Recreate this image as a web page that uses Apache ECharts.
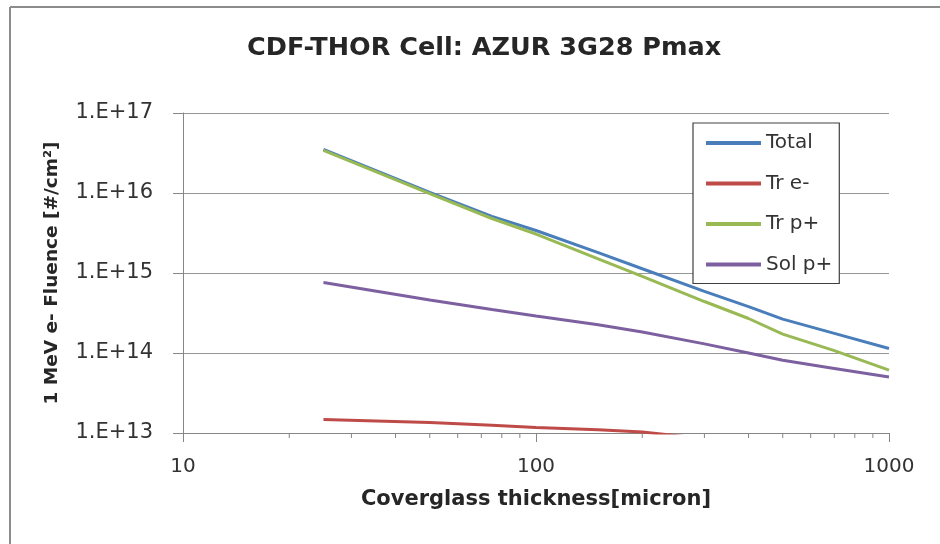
<!DOCTYPE html>
<html>
<head>
<meta charset="utf-8">
<script src="https://cdn.jsdelivr.net/npm/echarts@6/dist/echarts.min.js"></script>
<style>
  html, body { margin: 0; padding: 0; background: #ffffff; }
  #chart { width: 940px; height: 544px; }
</style>
</head>
<body>
<div id="chart"></div>
<script>
// ---- data ----
const thickness = [25, 50, 75, 100, 150, 200, 300, 400, 500, 700, 1000];
const total     = [3.5e16, 1.02e16, 5.1e15, 3.4e15, 1.8e15, 1.13e15, 5.9e14, 3.8e14, 2.65e14, 1.76e14, 1.14e14];
const trElec    = [1.47e13, 1.35e13, 1.25e13, 1.17e13, 1.1e13, 1.03e13, 8.5e12, 7.3e12, 6.5e12, 5.3e12, 4.2e12];
const trProt    = [3.4e16, 9.8e15, 4.8e15, 3.07e15, 1.5e15, 9.1e14, 4.4e14, 2.7e14, 1.72e14, 1.07e14, 6.1e13];
const solProt   = [7.6e14, 4.6e14, 3.5e14, 2.9e14, 2.25e14, 1.83e14, 1.3e14, 1.0e14, 8.1e13, 6.4e13, 5.0e13];
const seriesNames = ['Total', 'Tr e-', 'Tr p+', 'Sol p+'];
const yTickLabels = ['1.E+13', '1.E+14', '1.E+15', '1.E+16', '1.E+17'];
const xTickLabels = ['10', '100', '1000'];
const xMinorTicks = [20, 30, 40, 50, 60, 70, 80, 90, 200, 300, 400, 500, 600, 700, 800, 900];

const colors = ['#4A7EBB', '#BE4B48', '#98B954', '#7D60A0'];
const FONT = 'DejaVu Sans';
const Y_MIN = 1e13, Y_MAX = 1e17;

function pairs(vals) { return thickness.map((t, i) => [t, vals[i]]); }

const chart = echarts.init(document.getElementById('chart'), null, { renderer: 'canvas' });

const lineSeries = [total, trElec, trProt, solProt].map((vals, i) => ({
  name: seriesNames[i],
  type: 'line',
  data: pairs(vals),
  symbol: 'none',
  showSymbol: false,
  clip: true,
  lineStyle: { color: colors[i], width: 3 },
  itemStyle: { color: colors[i] },
  z: 3
}));

const option = {
  backgroundColor: '#ffffff',
  animation: false,
  title: {
    text: 'CDF-THOR Cell: AZUR 3G28 Pmax',
    left: 242,
    top: 30,
    textStyle: { fontFamily: FONT, fontSize: 25.5, fontWeight: 'bold', color: '#262626' }
  },
  legend: {
    data: seriesNames,
    orient: 'vertical',
    left: 693,
    top: 123,
    padding: [9, 7, 8, 13],
    itemWidth: 55,
    itemHeight: 4,
    itemGap: 18.5,
    icon: 'rect',
    backgroundColor: '#ffffff',
    borderColor: '#404040',
    borderWidth: 1.2,
    borderRadius: 0,
    textStyle: { fontFamily: FONT, fontSize: 20, color: '#333333', lineHeight: 22 }
  },
  graphic: [
    { type: 'line', shape: { x1: 10, y1: 7, x2: 940, y2: 7 }, style: { stroke: '#8c8c8c', lineWidth: 2 }, silent: true },
    { type: 'line', shape: { x1: 10, y1: 7, x2: 10, y2: 544 }, style: { stroke: '#8c8c8c', lineWidth: 2 }, silent: true }
  ],
  grid: { left: 183, right: 51, top: 113, bottom: 111, containLabel: false },
  xAxis: {
    type: 'log',
    logBase: 10,
    min: 10,
    max: 1000,
    name: 'Coverglass thickness[micron]',
    nameLocation: 'middle',
    nameGap: 56,
    nameTextStyle: { fontFamily: FONT, fontSize: 21, fontWeight: 'bold', color: '#262626' },
    axisLine: { show: true, lineStyle: { color: '#868686', width: 1 } },
    axisTick: { show: true, inside: false, length: 9, lineStyle: { color: '#868686' } },
    axisLabel: {
      fontFamily: FONT, fontSize: 20, color: '#333333', margin: 24,
      formatter: function (v) {
        const e = Math.round(Math.log10(v));
        return xTickLabels[e - 1] || '';
      }
    },
    splitLine: { show: false },
    minorTick: { show: false }
  },
  yAxis: {
    type: 'log',
    logBase: 10,
    min: Y_MIN,
    max: Y_MAX,
    name: '1 MeV e- Fluence [#/cm²]',
    nameLocation: 'middle',
    nameRotate: 90,
    nameGap: 121,
    nameTextStyle: { fontFamily: FONT, fontSize: 18.5, fontWeight: 'bold', color: '#262626' },
    axisLine: { show: true, lineStyle: { color: '#868686', width: 1 } },
    axisTick: { show: true, inside: false, length: 10, lineStyle: { color: '#868686' } },
    axisLabel: {
      fontFamily: FONT, fontSize: 21, color: '#333333', margin: 30,
      formatter: function (v) {
        const e = Math.round(Math.log10(v));
        return yTickLabels[e - 13] || '';
      }
    },
    splitLine: { show: true, lineStyle: { color: '#969696', width: 1 } }
  },
  series: lineSeries.concat([{
    name: 'minorTicks',
    type: 'custom',
    silent: true,
    clip: false,
    z: 1,
    data: xMinorTicks.map(v => [v, Y_MIN]),
    renderItem: function (params, api) {
      const p = api.coord([api.value(0), api.value(1)]);
      return {
        type: 'line',
        shape: { x1: p[0], y1: p[1], x2: p[0], y2: p[1] + 5 },
        style: { stroke: '#868686', lineWidth: 1 }
      };
    }
  }])
};

chart.setOption(option);
</script>
</body>
</html>
